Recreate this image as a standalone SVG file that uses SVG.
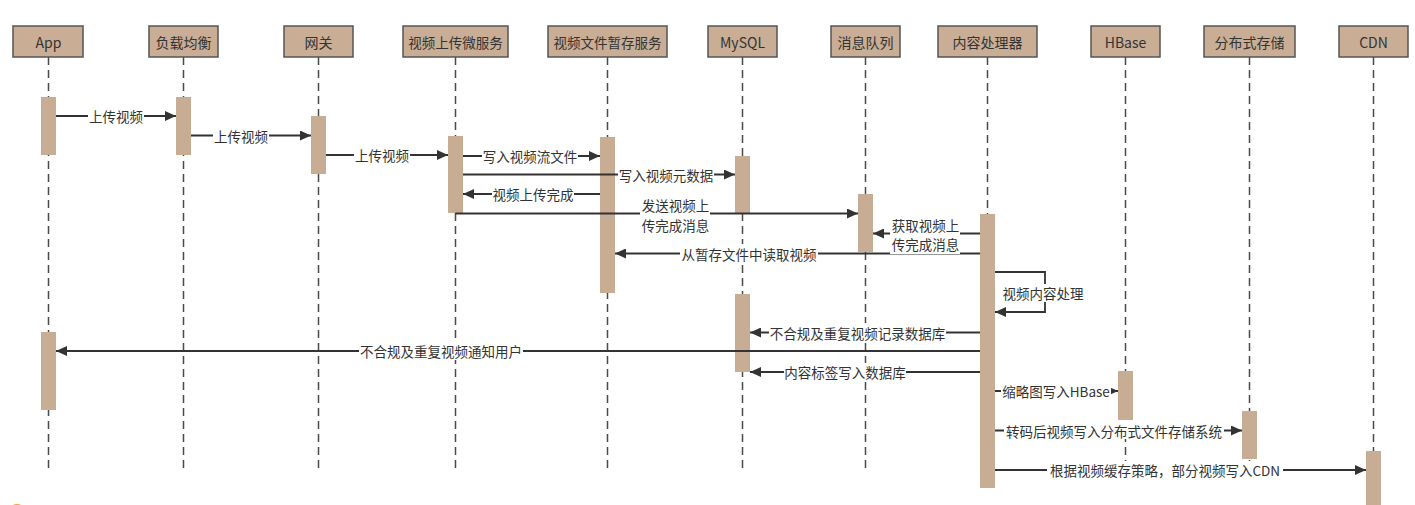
<svg xmlns="http://www.w3.org/2000/svg" width="1415" height="505" viewBox="0 0 1415 505">
<style>
.hdr{fill:#c9ad95;stroke:#555;stroke-width:1.5}
.act{fill:#c8ad95}
.life{stroke:#4a4a4a;stroke-width:1.5;stroke-dasharray:8 5;fill:none}
.msg{stroke:#333;stroke-width:1.8;fill:none}
.t{font-family:"Noto Sans CJK SC","Noto Sans",sans-serif;font-size:13.5px;fill:#333;text-anchor:middle;dominant-baseline:central}
.h{font-size:14px}
.bg{fill:#fff}
</style>
<defs>
<marker id="ah" markerUnits="userSpaceOnUse" markerWidth="12" markerHeight="10" refX="11" refY="5" orient="auto">
<path d="M0,0 L11,5 L0,10 Z" fill="#333"/>
</marker>
</defs>
<rect width="1415" height="505" fill="#fff"/>

<g id="lifelines">
<path class="life" d="M48.5,57V473M183.5,57V473M318.5,57V473M455.5,57V473M607.5,57V473M742.5,57V473M865.5,57V473M987.5,57V473M1125.5,57V473M1249.5,57V473M1373.5,57V473"/>
</g>

<g id="n-app"><rect class="hdr" x="13" y="26" width="70" height="31"/><text class="t h" x="48.5" y="42">App</text>
<rect class="act" x="41" y="97" width="15" height="58"/><rect class="act" x="41" y="332" width="15" height="78"/></g>
<g id="n-lb"><rect class="hdr" x="149" y="26" width="69" height="31"/><text class="t h" x="183.5" y="42">负载均衡</text>
<rect class="act" x="176" y="97" width="15" height="58"/></g>
<g id="n-gw"><rect class="hdr" x="284" y="26" width="69" height="31"/><text class="t h" x="318.5" y="42">网关</text>
<rect class="act" x="311" y="116" width="15" height="58"/></g>
<g id="n-upload"><rect class="hdr" x="403" y="26" width="105" height="31"/><text class="t" x="455.5" y="42">视频上传微服务</text>
<rect class="act" x="448" y="136" width="15" height="77"/></g>
<g id="n-temp"><rect class="hdr" x="548" y="26" width="119" height="31"/><text class="t" x="607.5" y="42">视频文件暂存服务</text>
<rect class="act" x="600" y="137" width="15" height="156"/></g>
<g id="n-mysql"><rect class="hdr" x="708" y="26" width="69" height="31"/><text class="t h" x="742.5" y="42">MySQL</text>
<rect class="act" x="735" y="156" width="15" height="57"/><rect class="act" x="735" y="294" width="15" height="78"/></g>
<g id="n-mq"><rect class="hdr" x="831" y="26" width="69" height="31"/><text class="t h" x="865.5" y="42">消息队列</text>
<rect class="act" x="858" y="194" width="15" height="58"/></g>
<g id="n-cp"><rect class="hdr" x="938" y="26" width="99" height="31"/><text class="t h" x="987.5" y="42">内容处理器</text>
<rect class="act" x="980" y="214" width="15" height="274"/></g>
<g id="n-hbase"><rect class="hdr" x="1091" y="26" width="69" height="31"/><text class="t h" x="1125.5" y="42">HBase</text>
<rect class="act" x="1118" y="371" width="15" height="49"/></g>
<g id="n-dist"><rect class="hdr" x="1204" y="26" width="91" height="31"/><text class="t h" x="1249.5" y="42">分布式存储</text>
<rect class="act" x="1242" y="411" width="15" height="48"/></g>
<g id="n-cdn"><rect class="hdr" x="1339" y="26" width="69" height="31"/><text class="t h" x="1373.5" y="42">CDN</text>
<rect class="act" x="1366" y="451" width="15" height="60"/></g>

<g id="connectors">
<path class="msg" d="M56,116H176" marker-end="url(#ah)"/>
<path class="msg" d="M191,135.5H311" marker-end="url(#ah)"/>
<path class="msg" d="M326,155H448" marker-end="url(#ah)"/>
<path class="msg" d="M463,156H600" marker-end="url(#ah)"/>
<path class="msg" d="M463,174.5H735" marker-end="url(#ah)"/>
<path class="msg" d="M600,194H463" marker-end="url(#ah)"/>
<path class="msg" d="M455.5,213.5H858" marker-end="url(#ah)"/>
<path class="msg" d="M980,233.5H873" marker-end="url(#ah)"/>
<path class="msg" d="M980,253.5H615" marker-end="url(#ah)"/>
<path class="msg" d="M995,272H1045V312H995" marker-end="url(#ah)"/>
<path class="msg" d="M980,332.5H750" marker-end="url(#ah)"/>
<path class="msg" d="M980,351H56" marker-end="url(#ah)"/>
<path class="msg" d="M980,372H750" marker-end="url(#ah)"/>
<path class="msg" d="M995,391H1118" marker-end="url(#ah)"/>
<path class="msg" d="M995,430.5H1242" marker-end="url(#ah)"/>
<path class="msg" d="M995,470H1366" marker-end="url(#ah)"/>
</g>

<g id="labels">
<rect class="bg" x="88" y="107" width="56" height="18"/><text class="t" x="116" y="116">上传视频</text>
<rect class="bg" x="213" y="127" width="56" height="18"/><text class="t" x="241" y="135.5">上传视频</text>
<rect class="bg" x="354" y="146" width="56" height="18"/><text class="t" x="382" y="155">上传视频</text>
<rect class="bg" x="482" y="147" width="96" height="18"/><text class="t" x="530" y="156">写入视频流文件</text>
<rect class="bg" x="618" y="165" width="96" height="18"/><text class="t" x="666" y="174.5">写入视频元数据</text>
<rect class="bg" x="492" y="185" width="82" height="18"/><text class="t" x="533" y="194">视频上传完成</text>
<rect class="bg" x="640" y="196" width="70" height="38"/><text class="t" x="675.5" y="205">发送视频上</text><text class="t" x="675.5" y="224.5">传完成消息</text>
<rect class="bg" x="890" y="216" width="70" height="38"/><text class="t" x="925.5" y="225">获取视频上</text><text class="t" x="925.5" y="244">传完成消息</text>
<rect class="bg" x="680" y="244" width="138" height="18"/><text class="t" x="749" y="253.5">从暂存文件中读取视频</text>
<rect class="bg" x="1002" y="284" width="82" height="18"/><text class="t" x="1043" y="293">视频内容处理</text>
<rect class="bg" x="769" y="323" width="177" height="18"/><text class="t" x="857.5" y="332.5">不合规及重复视频记录数据库</text>
<rect class="bg" x="359" y="342" width="164" height="18"/><text class="t" x="441" y="351">不合规及重复视频通知用户</text>
<rect class="bg" x="784" y="363" width="122" height="18"/><text class="t" x="845" y="372">内容标签写入数据库</text>
<rect class="bg" x="1001" y="382" width="110" height="18"/><text class="t" x="1056" y="391">缩略图写入HBase</text>
<rect class="bg" x="1004" y="421" width="220" height="18"/><text class="t" x="1114" y="430.5">转码后视频写入分布式文件存储系统</text>
<rect class="bg" x="1047" y="461" width="236" height="18"/><text class="t" x="1165" y="470">根据视频缓存策略，部分视频写入CDN</text>
</g>

<circle cx="17" cy="513" r="9" fill="#f5a340"/>
</svg>
